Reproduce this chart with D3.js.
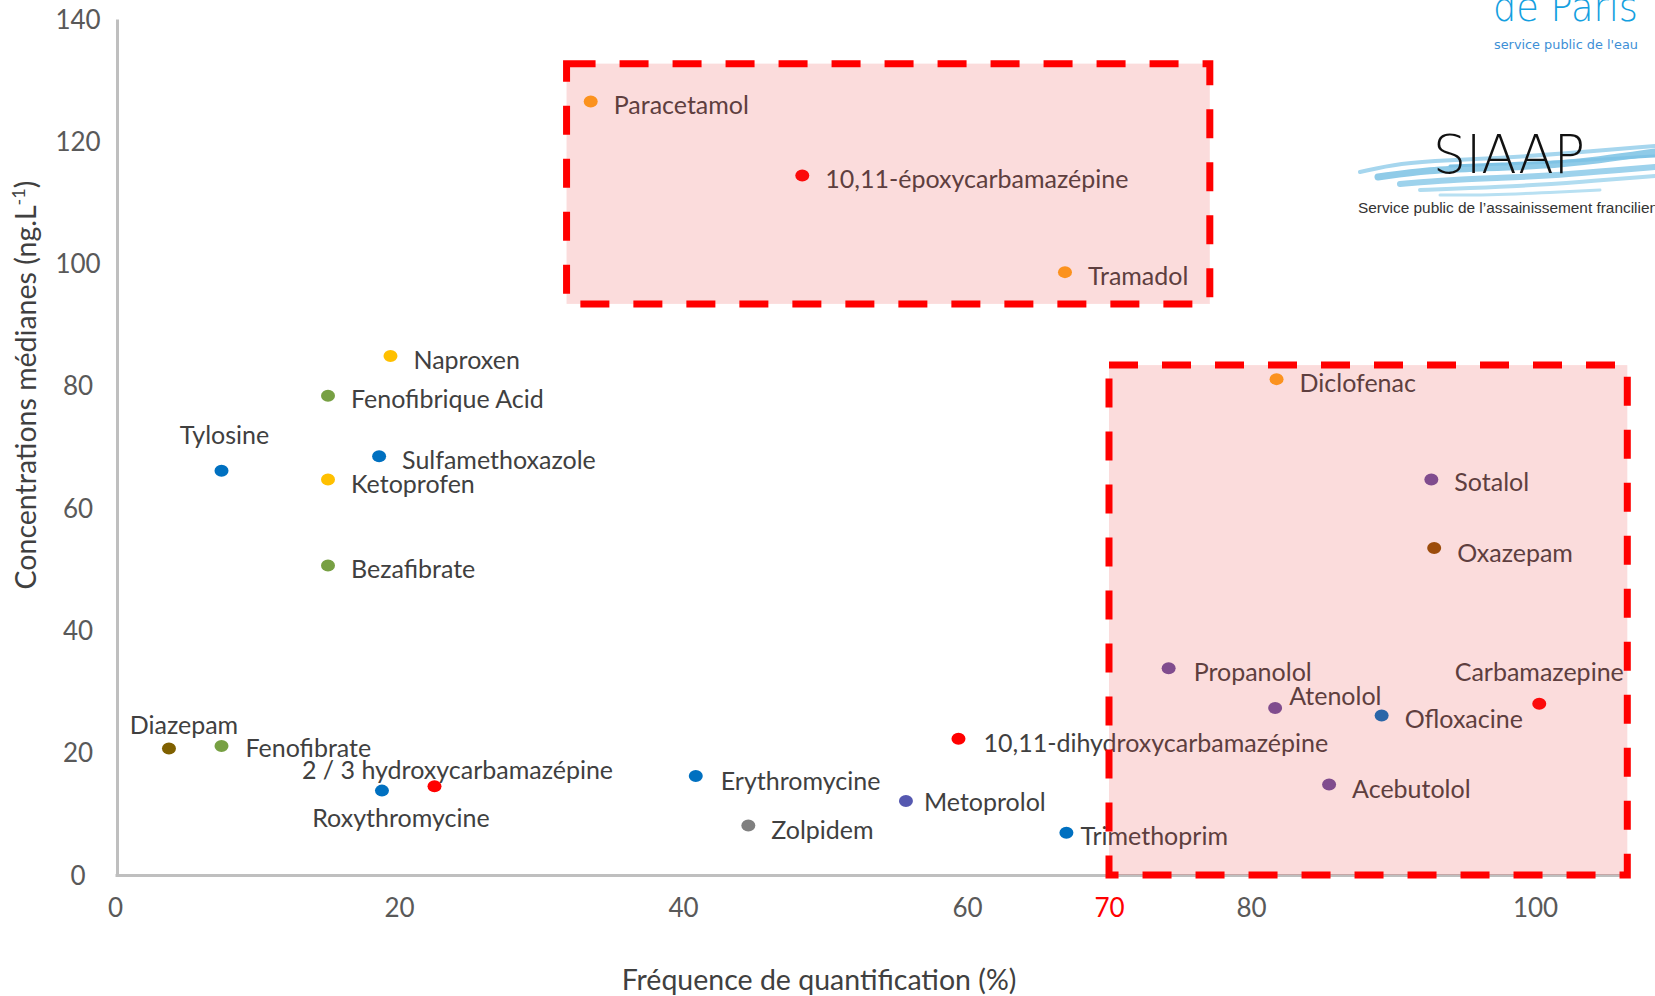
<!DOCTYPE html>
<html>
<head>
<meta charset="utf-8">
<script src="https://cdn.jsdelivr.net/npm/d3@7/dist/d3.min.js"></script>
<style>
  html, body { margin: 0; padding: 0; background: #fff; }
  svg { display: block; }
</style>
</head>
<body>
<script>
// ---------- DATA ----------
const compounds = ["Paracetamol","10,11-époxycarbamazépine","Tramadol","Naproxen","Fenofibrique Acid",
  "Tylosine","Sulfamethoxazole","Ketoprofen","Bezafibrate","Diazepam","Fenofibrate","Roxythromycine",
  "2 / 3 hydroxycarbamazépine","Erythromycine","Zolpidem","Metoprolol","10,11-dihydroxycarbamazépine",
  "Trimethoprim","Diclofenac","Sotalol","Oxazepam","Propanolol","Atenolol","Ofloxacine","Acebutolol","Carbamazepine"];
const frequency = [33.5,48.4,66.9,19.4,15.0,7.5,18.6,15.0,15.0,3.8,7.5,18.8,22.5,40.9,44.6,55.7,59.4,67.0,
  81.8,92.7,92.9,74.2,81.7,89.2,85.5,100.3];
const concentration = [126.5,114.4,98.6,84.9,78.4,66.1,68.5,64.7,50.6,20.7,21.1,13.8,14.5,16.2,8.1,12.1,22.3,6.9,
  81.1,64.7,53.5,33.8,27.3,26.1,14.8,28.0];
const family = ["analgesic","carbamazepine","analgesic","nsaid","fibrate","antibiotic","antibiotic","nsaid","fibrate",
  "benzo1","fibrate","antibiotic","carbamazepine","antibiotic","hypnotic","betablocker1","carbamazepine","antibiotic",
  "analgesic","betablocker","benzo2","betablocker","betablocker","antibiotic","betablocker","carbamazepine"];
const xTicks = [0,20,40,60,70,80,100];
const yTicks = [0,20,40,60,80,100,120,140];
const highlightZones = [ {x0:31.8, x1:77.1, y0:93.4, y1:132.7}, {x0:70, x1:106.5, y0:0, y1:83.4} ];

// ---------- STYLE / LAYOUT ----------
const familyColor = {analgesic:"#ffa518", carbamazepine:"#ff0000", nsaid:"#ffc000", fibrate:"#77a043",
  antibiotic:"#0070c0", benzo1:"#7f6000", benzo2:"#8c5000", hypnotic:"#808080", betablocker1:"#5558b0", betablocker:"#6a50a0"};
// label placement: [anchor, dx, dy] in px
const labelPlace = [["start",23,4],["start",23,4],["start",23,4],["start",23,4],["start",23,4],
  ["middle",3,-36],["start",23,4],["start",23,5],["start",23,4],["middle",15,-23],["start",24,2],
  ["middle",19,28],["middle",23,-16],["start",25,5],["start",23,5],["start",18,1],["start",25,5],
  ["start",14,3],["start",23,4],["start",23,3],["start",23,5],["start",25,4],["start",14,-12],
  ["start",23,4],["start",23,5],["middle",0,-32]];

const W = 1655, H = 996;
const FONT = "Lato, Carlito, Calibri, 'Open Sans', sans-serif";
const svg = d3.select("body").append("svg").attr("width", W).attr("height", H)
  .style("font-family", FONT);
svg.append("rect").attr("width", W).attr("height", H).attr("fill", "#fff");

const x = d3.scaleLinear().domain([0, 106.5]).range([115, 115 + 14.2*106.5]);
const y = d3.scaleLinear().domain([0, 140]).range([875, 19]);

// axes
const xAxis = d3.axisBottom(x).tickValues(xTicks).tickSize(0).tickSizeOuter(0).tickPadding(24).tickFormat(d3.format("d"));
const yAxis = d3.axisLeft(y).tickValues(yTicks).tickSize(0).tickSizeOuter(0).tickFormat(d3.format("d"));

const gx = svg.append("g").attr("transform", `translate(0,${y(0)})`).call(xAxis);
gx.select(".domain").attr("stroke", "#bfbfbf").attr("stroke-width", 3);
gx.selectAll(".tick text").attr("font-size", 26).attr("fill", d => d === 70 ? "#ff0000" : "#595959")
  .attr("font-family", FONT);

const gy = svg.append("g").attr("transform", `translate(${x(0)+2},0)`).call(yAxis);
gy.select(".domain").attr("stroke", "#bfbfbf").attr("stroke-width", 3);
gy.selectAll(".tick text").attr("font-size", 26).attr("fill", "#595959").attr("font-family", FONT)
  .attr("text-anchor", "middle").attr("x", 78 - (x(0)+2)).attr("dy", "0.35em");

// axis titles
const yt = svg.append("text").attr("transform", "translate(36,385) rotate(-90)")
  .attr("text-anchor", "middle").attr("font-size", 28.5).attr("fill", "#404040");
yt.append("tspan").text("Concentrations médianes (ng.L");
yt.append("tspan").text("-1").attr("font-size", 18).attr("dy", -11);
yt.append("tspan").text(")").attr("dy", 11);

svg.append("text").attr("x", 819).attr("y", 990).attr("text-anchor", "middle")
  .attr("font-size", 28.5).attr("fill", "#404040").text("Fréquence de quantification (%)");

// points
const idx = d3.range(compounds.length);
svg.append("g").selectAll("ellipse").data(idx).join("ellipse")
  .attr("cx", i => x(frequency[i])).attr("cy", i => y(concentration[i]))
  .attr("rx", 7).attr("ry", 6).attr("fill", i => familyColor[family[i]]);

// labels
svg.append("g").selectAll("text").data(idx).join("text")
  .attr("x", i => x(frequency[i]) + labelPlace[i][1])
  .attr("y", i => y(concentration[i]) + labelPlace[i][2])
  .attr("dy", "0.35em")
  .attr("text-anchor", i => labelPlace[i][0])
  .attr("font-size", 25).attr("fill", "#404040")
  .text(i => compounds[i]);

// highlight zones (drawn on top, translucent)
svg.append("g").selectAll("rect").data(highlightZones).join("rect")
  .attr("x", d => x(d.x0)).attr("y", d => y(d.y1))
  .attr("width", d => x(d.x1) - x(d.x0)).attr("height", d => y(d.y0) - y(d.y1))
  .attr("fill", "rgba(235,60,60,0.18)")
  .attr("stroke", "#ff0000").attr("stroke-width", 7).attr("stroke-dasharray", "29,24");

// ---------- logos ----------
const logo = svg.append("g");
logo.append("text").attr("x", 1493).attr("y", 21).attr("font-size", 40).attr("fill", "#14a0e0")
  .attr("font-family", "'DejaVu Sans', sans-serif").attr("font-weight", 300)
  .attr("textLength", 145).attr("lengthAdjust", "spacingAndGlyphs").text("de Paris");
logo.append("text").attr("x", 1494).attr("y", 49).attr("font-size", 13).attr("fill", "#3d8fd6")
  .attr("font-family", "'DejaVu Sans', sans-serif")
  .attr("textLength", 144).attr("lengthAdjust", "spacingAndGlyphs").text("service public de l'eau");

// SIAAP waves
const wave = d3.line().curve(d3.curveBasis);
const waves = [
  {p:[[1360,172],[1400,163],[1450,160],[1500,158],[1560,154],[1655,146]], w:4, c:"#a6d6ee"},
  {p:[[1378,177],[1430,170],[1480,168],[1540,166],[1600,160],[1655,152]], w:7, c:"#8fcbe8"},
  {p:[[1400,184],[1450,180],[1500,178],[1560,175],[1620,170],[1655,167]], w:6, c:"#9dd2ec"},
  {p:[[1420,190],[1470,188],[1520,186],[1580,182],[1655,176]], w:4, c:"#b0dcf0"},
  {p:[[1440,195],[1490,195],[1540,193],[1600,190]], w:3, c:"#b8e0f2"},
  {p:[[1450,166],[1500,164],[1560,162],[1620,158],[1655,156]], w:3, c:"#7fc3e5"}
];
logo.selectAll("path.wave").data(waves).join("path").attr("class","wave")
  .attr("d", d => wave(d.p)).attr("fill","none").attr("stroke", d => d.c)
  .attr("stroke-width", d => d.w).attr("stroke-linecap","round");
logo.append("text").attr("x", 1433).attr("y", 173).attr("font-size", 54).attr("fill", "#111")
  .attr("font-family", "'DejaVu Sans', sans-serif").attr("font-weight", 200)
  .attr("textLength", 152).attr("lengthAdjust", "spacingAndGlyphs").text("SIAAP");
logo.append("text").attr("x", 1358).attr("y", 213).attr("font-size", 14).attr("fill", "#333")
  .attr("font-family", "'Liberation Sans', Arial, sans-serif")
  .attr("textLength", 300).attr("lengthAdjust", "spacingAndGlyphs").text("Service public de l’assainissement francilien");
</script>
</body>
</html>
